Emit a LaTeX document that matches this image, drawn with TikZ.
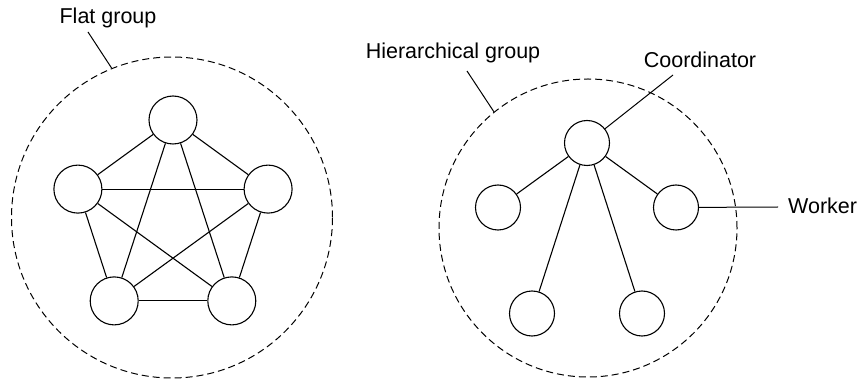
\documentclass[tikz,border=0pt]{standalone}
\usepackage{fontspec}
\setmainfont{Liberation Sans}
\usepackage{tikz}
\usetikzlibrary{positioning}

\begin{document}
\begin{tikzpicture}[
    x=1pt, y=1pt,
    member/.style={draw, circle, line width=1.1pt, inner sep=0pt, minimum size=48pt},
    hmember/.style={member, minimum size=45pt},
    group/.style={draw, circle, dash pattern=on 7pt off 4pt, line width=1pt, inner sep=0pt},
    link/.style={line width=1.1pt},
    leader/.style={line width=1pt},
    lbl/.style={font=\fontsize{21.5}{25}\selectfont, inner sep=0pt}
]
\useasboundingbox (0,0) rectangle (861,380);

% flat group
\node (flat) [group, minimum size=321pt] at (172,162.5) {};
\node (f1) [member] at (173,260) {};
\node (f2) [member] at (77.9,190.9) {};
\node (f3) [member] at (114.2,79.1) {};
\node (f4) [member] at (231.8,79.1) {};
\node (f5) [member] at (268.1,190.9) {};

\draw [link] (f1) -- (f2);
\draw [link] (f1) -- (f3);
\draw [link] (f1) -- (f4);
\draw [link] (f1) -- (f5);
\draw [link] (f2) -- (f3);
\draw [link] (f2) -- (f4);
\draw [link] (f2) -- (f5);
\draw [link] (f3) -- (f4);
\draw [link] (f3) -- (f5);
\draw [link] (f4) -- (f5);

\node (flatlbl) [lbl] at (108,362) {Flat group};
\coordinate (flatpin) at (88,348);
\draw [leader] (flatpin) -- (flat.112);

% hierarchical group
\node (hier) [group, minimum size=298pt] at (588,152) {};
\node (coord) [hmember] at (587,237) {};
\node (w1) [hmember] at (498,172.5) {};
\node (w2) [hmember] at (676,172.5) {};
\node (w3) [hmember] at (532,66.5) {};
\node (w4) [hmember] at (642,66.5) {};

\draw [link] (coord) -- (w1);
\draw [link] (coord) -- (w2);
\draw [link] (coord) -- (w3);
\draw [link] (coord) -- (w4);

\node (hierlbl) [lbl] at (453,327) {Hierarchical group};
\coordinate (hierpin) at (467,309);
\draw [leader] (hierpin) -- (hier.129);

\node (coordlbl) [lbl] at (700,320) {Coordinator};
\coordinate (coordpin) at (673,305);
\draw [leader] (coord) -- (coordpin);

\node (worklbl) [lbl, anchor=west] at (788,174) {Worker};
\coordinate (workpin) at (778,173);
\draw [leader] (w2) -- (workpin);

\end{tikzpicture}
\end{document}
